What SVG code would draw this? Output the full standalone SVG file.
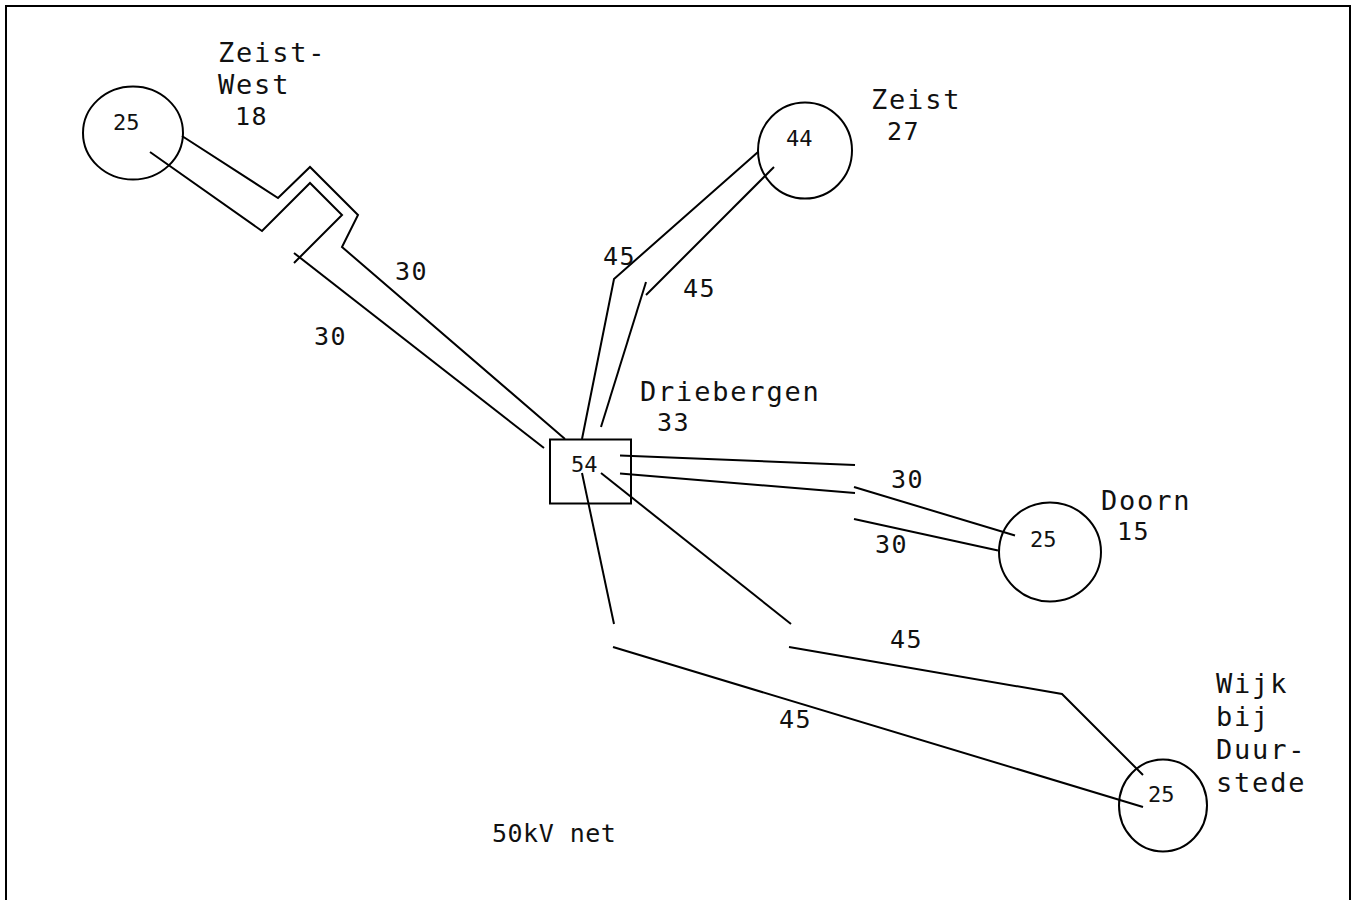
<svg xmlns="http://www.w3.org/2000/svg" width="1354" height="900" viewBox="0 0 1354 900">
  <style>
    .ln { fill: none; stroke: #000; stroke-width: 2; stroke-linejoin: miter; }
    .nd { fill: #fff; stroke: #000; stroke-width: 2; }
    text { font-family: "DejaVu Sans Mono", "Liberation Mono", monospace; fill: #111; }
    .name { font-size: 27px; letter-spacing: 1.8px; }
    .num { font-size: 25px; letter-spacing: 1.5px; }
    .load { font-size: 22px; letter-spacing: 0px; }
  </style>

  <!-- frame -->
  <rect x="6" y="6" width="1344" height="930" fill="#fff" stroke="#000" stroke-width="2"/>

  <!-- stations -->
  <g id="zeist-west">
    <ellipse class="nd" cx="133" cy="133" rx="50" ry="46.5"/>
    <text class="load" x="113" y="130">25</text>
    <text class="name" x="218" y="62">Zeist-</text>
    <text class="name" x="218" y="94">West</text>
    <text class="num" x="235" y="125">18</text>
  </g>

  <g id="zeist">
    <ellipse class="nd" cx="805" cy="150.5" rx="47" ry="48"/>
    <text class="load" x="786" y="146">44</text>
    <text class="name" x="871" y="109">Zeist</text>
    <text class="num" x="887" y="140">27</text>
  </g>

  <g id="driebergen">
    <rect class="nd" x="550" y="439.5" width="81" height="64"/>
    <text class="load" x="571" y="472">54</text>
    <text class="name" x="640" y="401">Driebergen</text>
    <text class="num" x="657" y="431">33</text>
  </g>

  <g id="doorn">
    <ellipse class="nd" cx="1050" cy="552" rx="51" ry="49.5"/>
    <text class="load" x="1030" y="547">25</text>
    <text class="name" x="1101" y="510">Doorn</text>
    <text class="num" x="1117" y="540">15</text>
  </g>

  <g id="wijk-bij-duurstede">
    <ellipse class="nd" cx="1163" cy="805.5" rx="44" ry="46"/>
    <text class="load" x="1148" y="802">25</text>
    <text class="name" x="1216" y="693">Wijk</text>
    <text class="name" x="1216" y="726">bij</text>
    <text class="name" x="1216" y="759">Duur-</text>
    <text class="name" x="1216" y="792">stede</text>
  </g>

  <!-- 50 kV circuits -->
  <g id="connectors">
    <!-- Driebergen - Zeist-West -->
    <polyline class="ln" points="182,136 278,198 310,167 358,215 342,247 565,439"/>
    <polyline class="ln" points="150,152 262,231 310,183 342,215 294,263"/>
    <line class="ln" x1="294" y1="253" x2="544" y2="448"/>
    <!-- Driebergen - Zeist -->
    <polyline class="ln" points="758,152 614,279 582,439"/>
    <line class="ln" x1="774" y1="167" x2="646" y2="295"/>
    <line class="ln" x1="646" y1="282" x2="601" y2="427"/>
    <!-- Driebergen - Doorn -->
    <line class="ln" x1="620" y1="455.5" x2="855" y2="465"/>
    <line class="ln" x1="620" y1="473.5" x2="855" y2="493"/>
    <line class="ln" x1="854" y1="487" x2="1015" y2="535.5"/>
    <line class="ln" x1="854" y1="519" x2="998" y2="550.5"/>
    <!-- Driebergen - Wijk bij Duurstede -->
    <line class="ln" x1="582" y1="473" x2="614" y2="624"/>
    <line class="ln" x1="601" y1="473" x2="791" y2="624"/>
    <line class="ln" x1="613" y1="647" x2="1143" y2="807"/>
    <polyline class="ln" points="789,647 1062,694 1143,775"/>
  </g>

  <!-- circuit ratings -->
  <g id="ratings">
    <text class="num" x="395" y="280">30</text>
    <text class="num" x="314" y="345">30</text>
    <text class="num" x="603" y="265">45</text>
    <text class="num" x="683" y="297">45</text>
    <text class="num" x="891" y="488">30</text>
    <text class="num" x="875" y="553">30</text>
    <text class="num" x="890" y="648">45</text>
    <text class="num" x="779" y="728">45</text>
  </g>

  <text class="num" x="492" y="842" style="letter-spacing:0.5px">50kV net</text>
</svg>
